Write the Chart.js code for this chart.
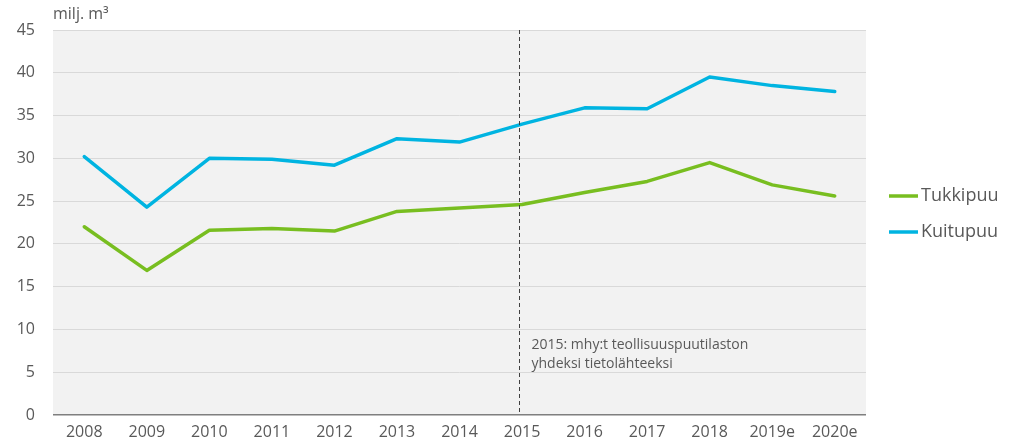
<!DOCTYPE html>
<html>
<head>
<meta charset="utf-8">
<script src="https://cdn.jsdelivr.net/npm/chart.js@4"></script>
<style>
  html, body { margin: 0; padding: 0; background: #fff; }
  #wrap { width: 1014px; height: 447px; }
</style>
</head>
<body>
<div id="wrap"><canvas id="chart"></canvas></div>
<script>
// Data
const years = ['2008', '2009', '2010', '2011', '2012', '2013', '2014', '2015', '2016', '2017', '2018', '2019e', '2020e'];
const tukkipuu = [22.0, 16.9, 21.6, 21.8, 21.5, 23.8, 24.2, 24.6, 26.0, 27.3, 29.5, 26.9, 25.6];
const kuitupuu = [30.2, 24.3, 30.0, 29.9, 29.2, 32.3, 31.9, 34.0, 35.9, 35.8, 39.5, 38.5, 37.8];
const yTicks = [0, 5, 10, 15, 20, 25, 30, 35, 40, 45];
const unitLabel = 'milj. m³';
const noteYear = '2015';
const noteLines = ['2015: mhy:t teollisuuspuutilaston', 'yhdeksi tietolähteeksi'];

const GREEN = '#78be20';
const BLUE = '#00b4e1';
const TEXT = '#595959';
const FONT = '"Open Sans", sans-serif';

// gray plot background
const plotBg = {
    id: 'plotBg',
    beforeDraw(chart) {
        const { ctx, chartArea: a } = chart;
        ctx.save();
        ctx.fillStyle = '#f2f2f2';
        ctx.fillRect(a.left, a.top, a.right - a.left, a.bottom - a.top);
        ctx.restore();
    }
};

// unit label, dashed 2015 marker, note and legend
const extras = {
    id: 'extras',
    afterDatasetsDraw(chart) {
        const { ctx, chartArea: a, scales } = chart;
        ctx.save();

        ctx.fillStyle = TEXT;
        ctx.font = '16px ' + FONT;
        ctx.textBaseline = 'middle';
        ctx.textAlign = 'left';
        ctx.fillText(unitLabel, a.left, 14);

        // marker sits a little left of the category centre in the original
        const x = Math.round(scales.x.getPixelForValue(years.indexOf(noteYear))) - 2.5;
        ctx.strokeStyle = '#404040';
        ctx.lineWidth = 1;
        ctx.setLineDash([4, 3]);
        ctx.beginPath();
        ctx.moveTo(x, a.top);
        ctx.lineTo(x, a.bottom);
        ctx.stroke();
        ctx.setLineDash([]);

        ctx.font = '14px ' + FONT;
        ctx.fillStyle = TEXT;
        noteLines.forEach((t, i) => ctx.fillText(t, x + 12, 345 + i * 19));

        const items = [[ 'Tukkipuu', GREEN ], [ 'Kuitupuu', BLUE ]];
        ctx.font = '18px ' + FONT;
        items.forEach(([label, color], i) => {
            const y = 196 + i * 36;
            ctx.strokeStyle = color;
            ctx.lineWidth = 3.5;
            ctx.beginPath();
            ctx.moveTo(889, y);
            ctx.lineTo(918, y);
            ctx.stroke();
            ctx.fillStyle = TEXT;
            ctx.fillText(label, 921, y);
        });
        ctx.restore();
    }
};

new Chart(document.getElementById('chart'), {
    type: 'line',
    data: {
        labels: years,
        datasets: [
            { label: 'Tukkipuu', data: tukkipuu, borderColor: GREEN, backgroundColor: GREEN },
            { label: 'Kuitupuu', data: kuitupuu, borderColor: BLUE, backgroundColor: BLUE }
        ]
    },
    options: {
        responsive: true,
        maintainAspectRatio: false,
        animation: false,
        layout: { padding: { top: 30, right: 148, left: 0, bottom: 0 } },
        elements: {
            line: { borderWidth: 3.5, tension: 0, borderCapStyle: 'round', borderJoinStyle: 'round' },
            point: { radius: 0 }
        },
        plugins: {
            legend: { display: false },
            tooltip: { enabled: false }
        },
        scales: {
            x: {
                offset: true,
                grid: { display: false, drawTicks: false },
                border: { display: false },
                ticks: { color: TEXT, font: { family: FONT, size: 16 }, padding: 8, maxRotation: 0, autoSkip: false },
                afterFit: (s) => { s.height = 32; }
            },
            y: {
                min: 0,
                max: 45,
                afterBuildTicks: (s) => { s.ticks = yTicks.map(v => ({ value: v })); },
                grid: {
                    color: (c) => c.tick && c.tick.value === 0 ? '#7f7f7f' : '#d9d9d9',
                    lineWidth: (c) => c.tick && c.tick.value === 0 ? 1.5 : 1,
                    drawTicks: false
                },
                border: { display: false },
                ticks: { color: TEXT, font: { family: FONT, size: 16 }, padding: 18 },
                afterFit: (s) => { s.width = 53; }
            }
        }
    },
    plugins: [plotBg, extras]
});
</script>
</body>
</html>
